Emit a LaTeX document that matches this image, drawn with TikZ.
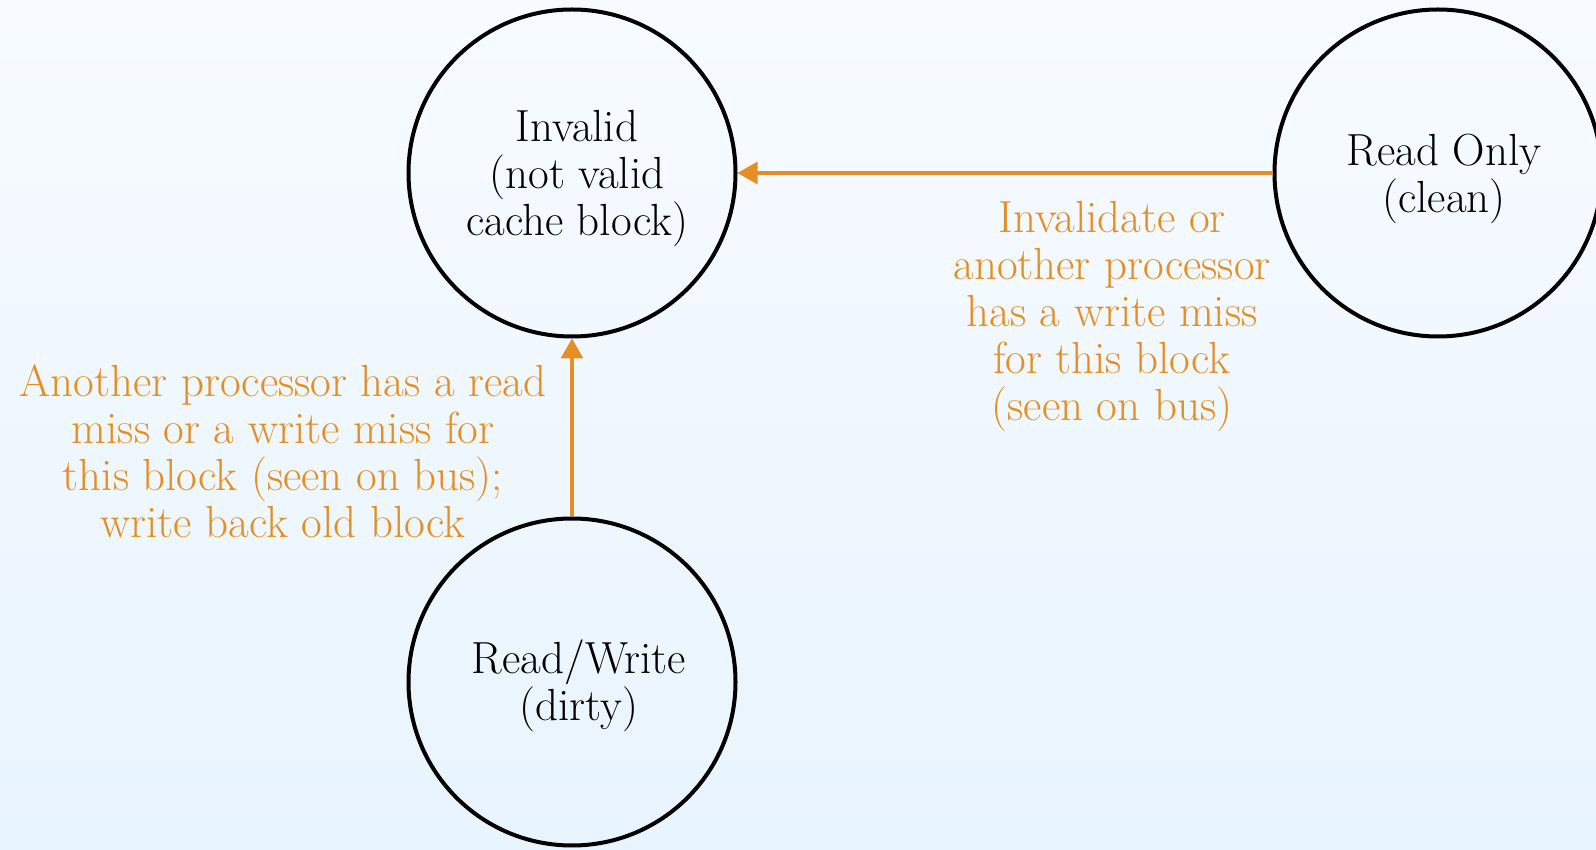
\documentclass[tikz,border=0pt]{standalone}
\usetikzlibrary{arrows.meta}
\definecolor{bgtop}{RGB}{247,251,255}
\definecolor{bgbot}{RGB}{232,244,254}
\definecolor{arrorange}{RGB}{230,142,35}
\begin{document}
\begin{tikzpicture}[x=1pt,y=1pt,
  state/.style={circle,draw=black,line width=4pt,minimum size=327pt,inner sep=0pt},
  statetext/.style={align=center,inner sep=0pt,font=\fontsize{45}{47}\selectfont},
  trans/.style={draw=arrorange,line width=3.2pt,-{Triangle[length=20pt,width=22pt]}},
  translabel/.style={text=arrorange,align=center,inner sep=0pt,font=\fontsize{45}{47}\selectfont}]
\shade[top color=bgtop,bottom color=bgbot] (0,0) rectangle (1596,849);
\useasboundingbox (0,0) rectangle (1596,849);
\node[state] (inv) at (572,676) {};
\node[state] (ro) at (1438,676) {};
\node[state] (rw) at (572,167) {};
\node[statetext] (invt) at (577,670) {Invalid\\(not valid\\cache block)};
\node[statetext] (rot) at (1444,670) {Read Only\\(clean)};
\node[statetext] (rwt) at (579,163) {Read/Write\\(dirty)};
\draw[trans] (ro) -- (inv);
\draw[trans] (rw) -- (inv);
\node[translabel] (l1) at (283,398) {Another processor has a read\\miss or a write miss for\\this block (seen on bus);\\write back old block};
\node[translabel] (l2) at (1112,532) {Invalidate or\\another processor\\has a write miss\\for this block\\(seen on bus)};
\end{tikzpicture}
\end{document}
